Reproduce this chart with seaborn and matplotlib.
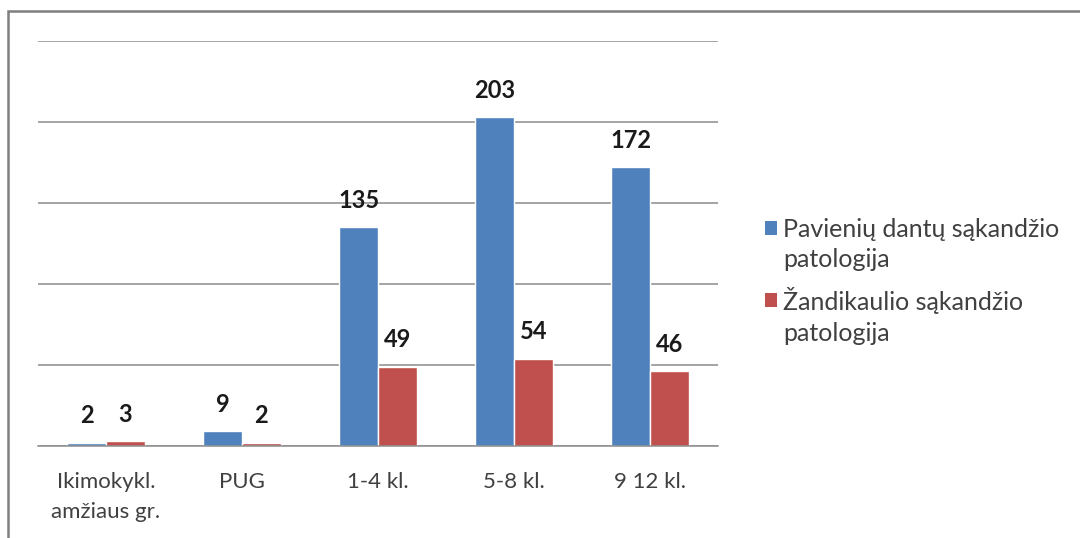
import matplotlib
matplotlib.use("Agg")
import matplotlib.pyplot as plt
import seaborn as sns
import pandas as pd
from matplotlib.patches import Rectangle, Patch
from matplotlib.legend_handler import HandlerPatch

categories = ["Ikimokykl.\namžiaus gr.", "PUG", "1-4 kl.", "5-8 kl.", "9 12 kl."]
series_names = ["Pavienių dantų sąkandžio\npatologija", "Žandikaulio sąkandžio\npatologija"]
pavieniu = [2, 9, 135, 203, 172]
zandikaulio = [3, 2, 49, 54, 46]
colors = ["#4F81BD", "#C0504D"]

df = pd.DataFrame({
    "cat": categories * 2,
    "series": [series_names[0]] * 5 + [series_names[1]] * 5,
    "value": pavieniu + zandikaulio,
})

sns.set_theme(style="white")
plt.rcParams["font.family"] = ["Lato", "DejaVu Sans"]

fig = plt.figure(figsize=(10.8, 5.38), dpi=100)
ax = fig.add_axes([38/1080, 1-446/538, 680/1080, 405/538])

sns.barplot(data=df, x="cat", y="value", hue="series", palette=colors,
            width=0.57, ax=ax, legend=False, saturation=1)

ax.set_ylim(0, 250)
ax.set_xlim(-0.5, 4.5)
ax.set_yticks([0, 50, 100, 150, 200, 250])
ax.set_yticklabels([])
ax.yaxis.grid(True, color="#8c8c8c", linewidth=1.1)
ax.set_axisbelow(True)
ax.tick_params(axis="y", length=0)
for s in ["top", "right", "left"]:
    ax.spines[s].set_visible(False)
ax.spines["bottom"].set_color("#8c8c8c")
ax.spines["bottom"].set_linewidth(1.1)
ax.set_xticks([-0.5, 0.5, 1.5, 2.5, 3.5, 4.5], minor=True)
ax.set_xticks(range(5))
ax.set_xticklabels(categories, fontsize=16, color="#404040", linespacing=1.6)
ax.tick_params(axis="x", which="major", length=0, pad=19)
ax.tick_params(axis="x", which="minor", length=6, color="#8c8c8c", width=1.1, direction="out")
ax.set_xlabel("")
ax.set_ylabel("")

for cont in ax.containers:
    ax.bar_label(cont, fontsize=17, fontweight="bold", color="#1a1a1a", padding=11)


def first_line_patch(legend, orig_handle, xdescent, ydescent, width, height, fontsize):
    return Rectangle((-xdescent, -ydescent + 12.0), width, height)


handles = [Patch(facecolor=c, edgecolor="none") for c in colors]
leg = fig.legend(handles, series_names, loc="upper left", bbox_to_anchor=(752/1080, 1-205/538),
                 frameon=False, fontsize=18, labelcolor="#404040", handlelength=0.5,
                 handleheight=0.5, handletextpad=0.25, labelspacing=0.65, borderpad=0,
                 handler_map={Patch: HandlerPatch(patch_func=first_line_patch)})
for t in leg.get_texts():
    t.set_linespacing(1.4)

fig.patches.append(Rectangle((8/1080, -0.1), 1.2, 1-11/538 + 0.1, transform=fig.transFigure,
                             fill=False, edgecolor="#7f7f7f", linewidth=1.8))

fig.savefig("out.png", dpi=100)
